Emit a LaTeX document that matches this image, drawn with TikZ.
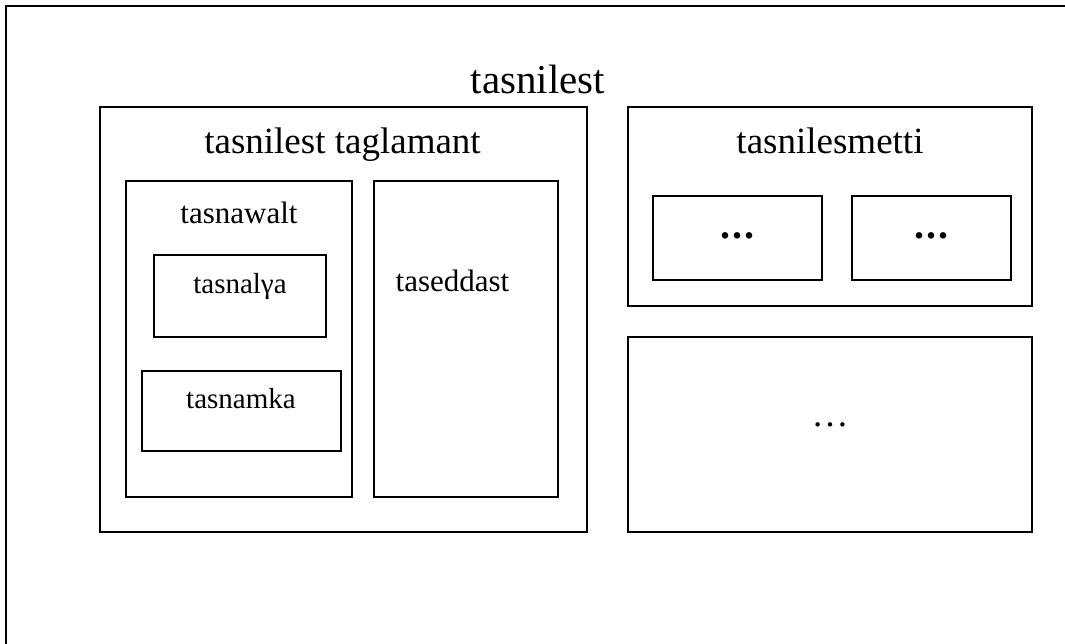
\documentclass[tikz,border=0pt]{standalone}
\usepackage{fontspec}
\setmainfont{Liberation Serif}
\begin{document}
\begin{tikzpicture}[x=1pt,y=-1pt,
  box/.style={draw=black,line width=1.6pt,inner sep=0pt,outer sep=0pt},
  lbl/.style={inner sep=0pt,anchor=base},
  frame/.style={draw=black,line width=1.8pt}]
\useasboundingbox (0,0) rectangle (1065,643);
\clip (0,0) rectangle (1065,643);
% outer frame (cut off at right and bottom)
\draw[frame] (6,660) -- (6,6) -- (1080,6);
\node[lbl,font=\fontsize{41}{45}\selectfont] (title) at (538,93) {tasnilest};
% left block
\node[box,minimum width=487,minimum height=425] (A) at (343.5,319.5) {};
\node[lbl,font=\fontsize{37}{41}\selectfont] (Alabel) at (342.5,153) {tasnilest taglamant};
\node[box,minimum width=226,minimum height=316] (walt) at (239,339) {};
\node[lbl,font=\fontsize{31}{35}\selectfont] (waltlabel) at (239,223) {tasnawalt};
\node[box,minimum width=172,minimum height=82] (lga) at (240,296) {};
\node[lbl,font=\fontsize{29}{33}\selectfont] (lgalabel) at (240,293) {tasnalγa};
\node[box,minimum width=199,minimum height=80] (mka) at (241.5,411) {};
\node[lbl,font=\fontsize{29}{33}\selectfont] (mkalabel) at (241,408) {tasnamka};
\node[box,minimum width=184,minimum height=316] (dast) at (466,339) {};
\node[lbl,font=\fontsize{31}{35}\selectfont] (dastlabel) at (452.5,291) {taseddast};
% right block
\node[box,minimum width=404,minimum height=199] (B) at (830,206.5) {};
\node[lbl,font=\fontsize{37}{41}\selectfont] (Blabel) at (830,153) {tasnilesmetti};
\node[box,minimum width=169,minimum height=84] (b1) at (737.5,238) {};
\node[lbl,font=\fontsize{40}{44}\selectfont\bfseries] (b1label) at (737.5,238) {.\kern2pt.\kern2pt.};
\node[box,minimum width=159,minimum height=84] (b2) at (931.5,238) {};
\node[lbl,font=\fontsize{40}{44}\selectfont\bfseries] (b2label) at (931,238) {.\kern2pt.\kern2pt.};
\node[box,minimum width=404,minimum height=195] (C) at (830,434.5) {};
\node[lbl,font=\fontsize{37}{41}\selectfont] (Clabel) at (830,426) {…};
\end{tikzpicture}
\end{document}
